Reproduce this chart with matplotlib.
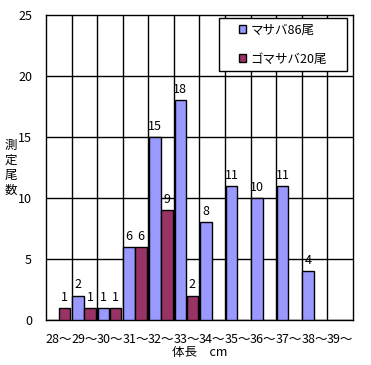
import matplotlib
matplotlib.use("Agg")
import matplotlib.pyplot as plt
from matplotlib.patches import Rectangle
import numpy as np

plt.rcParams['font.family'] = ['Noto Sans CJK JP', 'DejaVu Sans']

categories = ["28～", "29～", "30～", "31～", "32～", "33～", "34～", "35～", "36～", "37～", "38～", "39～"]
masaba = [0, 2, 1, 6, 15, 18, 8, 11, 10, 11, 4, 0]
gomasaba = [1, 1, 1, 6, 9, 2, 0, 0, 0, 0, 0, 0]
series_names = ["マサバ86尾", "ゴマサバ20尾"]

fig = plt.figure(figsize=(3.71, 3.65), dpi=100)
ax = fig.add_axes([0.124, 0.123, 0.827, 0.836])

x = np.arange(len(categories))
w = 0.45
b1 = ax.bar(x - w / 2 - 0.02, masaba, w, color='#9999FF', edgecolor='black', linewidth=1, label=series_names[0], zorder=3)
b2 = ax.bar(x + w / 2, gomasaba, w, color='#993366', edgecolor='black', linewidth=1, label=series_names[1], zorder=3)

for bars, vals in ((b1, masaba), (b2, gomasaba)):
    for r, v in zip(bars, vals):
        if v > 0:
            ax.text(r.get_x() + r.get_width() / 2, v + 0.35, str(v), ha='center', va='bottom', fontsize=9)

ax.set_xlim(-0.5, len(categories) - 0.5)
ax.set_ylim(0, 25)
ax.set_yticks([0, 5, 10, 15, 20, 25])
ax.set_xticks(x)
ax.set_xticklabels(categories, fontsize=9)
ax.tick_params(axis='y', labelsize=9, length=0, pad=10)
ax.tick_params(axis='x', length=0, pad=9)

# grid: horizontal at each 5, vertical between categories
for yv in [5, 10, 15, 20]:
    ax.axhline(yv, color='black', linewidth=1, zorder=1)
for xv in np.arange(0.5, len(categories) - 0.5, 1):
    ax.axvline(xv, color='black', linewidth=1, zorder=1)
for s in ax.spines.values():
    s.set_linewidth(1)
    s.set_color('black')

ax.set_xlabel("体長　cm", fontsize=9, labelpad=0)
fig.text(0.03, 0.54, "測\n定\n尾\n数", fontsize=9, ha='center', va='center', linespacing=1.2)

# legend box
ax.add_patch(Rectangle((0.5635, 0.816), 0.417, 0.174, transform=ax.transAxes,
                       facecolor='white', edgecolor='black', linewidth=1, zorder=4))
leg = ax.legend(loc='center', bbox_to_anchor=(0.772, 0.903), fontsize=9, frameon=False,
                handlelength=0.6, handleheight=0.6, handletextpad=0.3,
                labelspacing=1.3, borderpad=0, borderaxespad=0)
leg.set_zorder(5)

fig.savefig("out.png", dpi=100)
